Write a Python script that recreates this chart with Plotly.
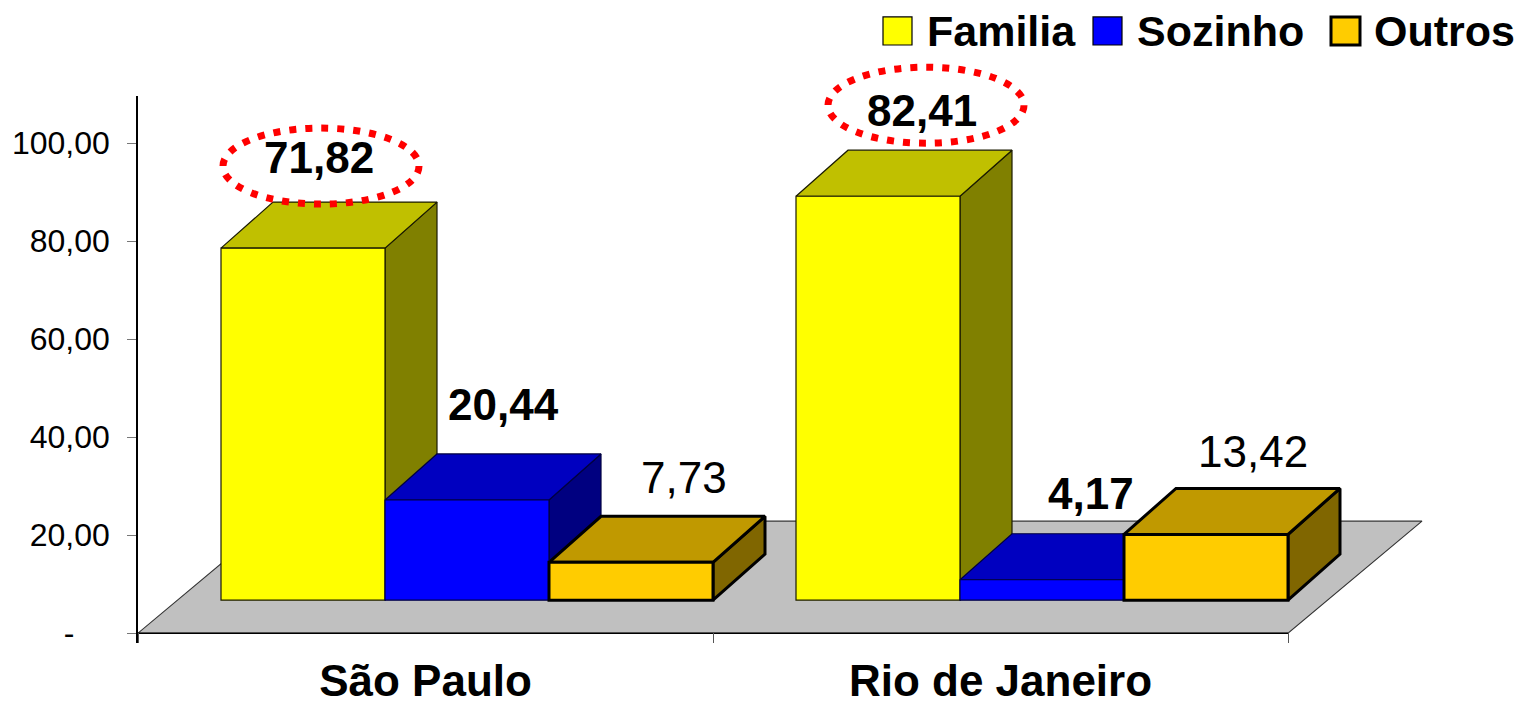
import plotly.graph_objects as go

# ---- data ----
categories = ["São Paulo", "Rio de Janeiro"]
familia = [71.82, 82.41]
sozinho = [20.44, 4.17]
outros = [7.73, 13.42]
y_ticks = [0, 20, 40, 60, 80, 100]
y_tick_labels = ["-\u00a0\u00a0\u00a0\u00a0", "20,00", "40,00", "60,00", "80,00", "100,00"]

# ---- geometry of the pseudo 3D scene ----
W, H = 1525, 704
PX_Y = 4.9      # pixels per unit on y
PX_X = 575.0    # pixels per category
M_L, M_T, M_B = 138, 96, 61.2
Y0_PX = 633
BAR_W = 164 / PX_X
GAP = 1 - 3 * BAR_W
BASE = 33 / PX_Y          # front face starts above the axis floor edge
DX, DY = 52 / PX_X, 46 / PX_Y   # bar depth
FDX, FDY = 134 / PX_X, 112 / PX_Y  # floor depth
FONT = "Liberation Sans, Arial, sans-serif"

series = [
    dict(name="Familia", vals=familia, front="#FFFF00", top="#C0C000", side="#808000",
         lc="#1a1a00", lw=1.2, bold=True, dx=[16, 44], up=[91, 86]),
    dict(name="Sozinho", vals=sozinho, front="#0000FF", top="#0000C0", side="#000080",
         lc="#000040", lw=1.2, bold=True, dx=[36, 49], up=[95, 86]),
    dict(name="Outros", vals=outros, front="#FFCC00", top="#C09900", side="#806600",
         lc="#000000", lw=3, bold=False, dx=[53, 47], up=[85, 83]),
]

fig = go.Figure()

# floor
fig.add_trace(go.Scatter(
    x=[0, 2, 2 + FDX, FDX, 0], y=[0, 0, FDY, FDY, 0], mode="lines", fill="toself",
    fillcolor="#C0C0C0", line=dict(color="#333333", width=1.1), hoverinfo="skip", showlegend=False))
fig.add_trace(go.Scatter(x=[0, 2], y=[0, 0], mode="lines",
                         line=dict(color="#000000", width=1.5), hoverinfo="skip", showlegend=False))

annotations, shapes = [], []

# depth faces, painted from back-left to front-right
for c in range(len(categories)):
    for s_i, s in enumerate(series):
        x0 = c + GAP + s_i * BAR_W
        x1 = x0 + BAR_W
        y1 = BASE + s["vals"][c]
        line = dict(color=s["lc"], width=s["lw"])
        fig.add_trace(go.Scatter(
            x=[x1, x1 + DX, x1 + DX, x1, x1], y=[BASE, BASE + DY, y1 + DY, y1, BASE],
            mode="lines", fill="toself", fillcolor=s["side"], line=line,
            hoverinfo="skip", showlegend=False))
        fig.add_trace(go.Scatter(
            x=[x0, x1, x1 + DX, x0 + DX, x0], y=[y1, y1, y1 + DY, y1 + DY, y1],
            mode="lines", fill="toself", fillcolor=s["top"], line=line,
            hoverinfo="skip", showlegend=False))

# front faces on an overlaid y axis so they sit above every depth face
for s_i, s in enumerate(series):
    fig.add_trace(go.Bar(
        name=s["name"],
        x=[c + GAP + (s_i + 0.5) * BAR_W for c in range(len(categories))],
        y=s["vals"], base=BASE, width=BAR_W, yaxis="y2",
        marker=dict(color=s["front"], line=dict(color=s["lc"], width=s["lw"])),
        showlegend=False))
    for c, v in enumerate(s["vals"]):
        txt = f"{v:.2f}".replace(".", ",")
        annotations.append(dict(
            x=c + GAP + (s_i + 0.5) * BAR_W, y=BASE + v, xref="x", yref="y",
            xshift=s["dx"][c], yshift=s["up"][c], showarrow=False,
            text=f"<b>{txt}</b>" if s["bold"] else txt,
            font=dict(family=FONT, size=44, color="#000000")))

plot_w = W - M_L
plot_h = H - M_T - M_B
px = lambda v: (v - M_L) / plot_w
py = lambda v: 1 - (v - M_T) / plot_h

# dotted ellipses round the Familia values (paper-referenced: they rise above the plot area)
for c, (ex, ey) in enumerate([(18, 82), (48, 91)]):
    cx = M_L + (c + GAP + 0.5 * BAR_W) * PX_X + ex
    cy = Y0_PX - (BASE + familia[c]) * PX_Y - ey
    shapes.append(dict(
        type="circle", xref="paper", yref="paper",
        x0=px(cx - 98), x1=px(cx + 98), y0=py(cy + 38), y1=py(cy - 38),
        line=dict(color="#FF0000", width=7, dash="7px,9px"), layer="above"))

# legend drawn to size
legend_swatch_x = [883, 1093, 1331]
legend_text_x = [925, 1135, 1372]
for s, sx, tx in zip(series, legend_swatch_x, legend_text_x):
    shapes.append(dict(
        type="rect", xref="paper", yref="paper",
        x0=px(sx), x1=px(sx + 29), y0=py(45), y1=py(17),
        fillcolor=s["front"],
        line=dict(color="#000000", width=3 if s["lw"] == 3 else 1.2)))
    annotations.append(dict(
        x=px(tx), y=py(31), xref="paper", yref="paper", xanchor="left", yanchor="middle",
        showarrow=False, text=f"<b>{s['name']}</b>",
        font=dict(family=FONT, size=43, color="#000000")))

y_range = [-2, (Y0_PX - M_T) / PX_Y]
fig.update_layout(
    width=W, height=H, autosize=False,
    margin=dict(l=M_L, r=0, t=M_T, b=M_B, pad=0, autoexpand=False),
    paper_bgcolor="#FFFFFF", plot_bgcolor="#FFFFFF",
    barmode="overlay", showlegend=False,
    annotations=annotations, shapes=shapes,
    xaxis=dict(
        range=[0, (W - M_L) / PX_X], showgrid=False, zeroline=False, showline=False,
        automargin=False,
        tickmode="array", tickvals=[0.5, 1.5], ticktext=categories, ticks="",
        tickfont=dict(family=FONT, size=44, color="#000000", weight="bold"),
        ticklabelstandoff=8,
        minor=dict(tickmode="array", tickvals=[0, 1, 2], ticks="inside", ticklen=9.8,
                   tickcolor="#555555", tickwidth=1.2, showgrid=False)),
    yaxis=dict(
        range=y_range, showgrid=False, zeroline=False, showline=True,
        linecolor="#000000", linewidth=1.5, automargin=False,
        tickmode="array", tickvals=y_ticks, ticktext=y_tick_labels,
        ticks="outside", ticklen=9, tickcolor="#777777", tickwidth=1.2,
        ticklabelstandoff=11,
        tickfont=dict(family=FONT, size=32, color="#000000")),
    yaxis2=dict(range=y_range, overlaying="y", visible=False),
)

fig.write_html("out.html", config=dict(displayModeBar=False),
               post_script="document.body.style.margin='0';")
